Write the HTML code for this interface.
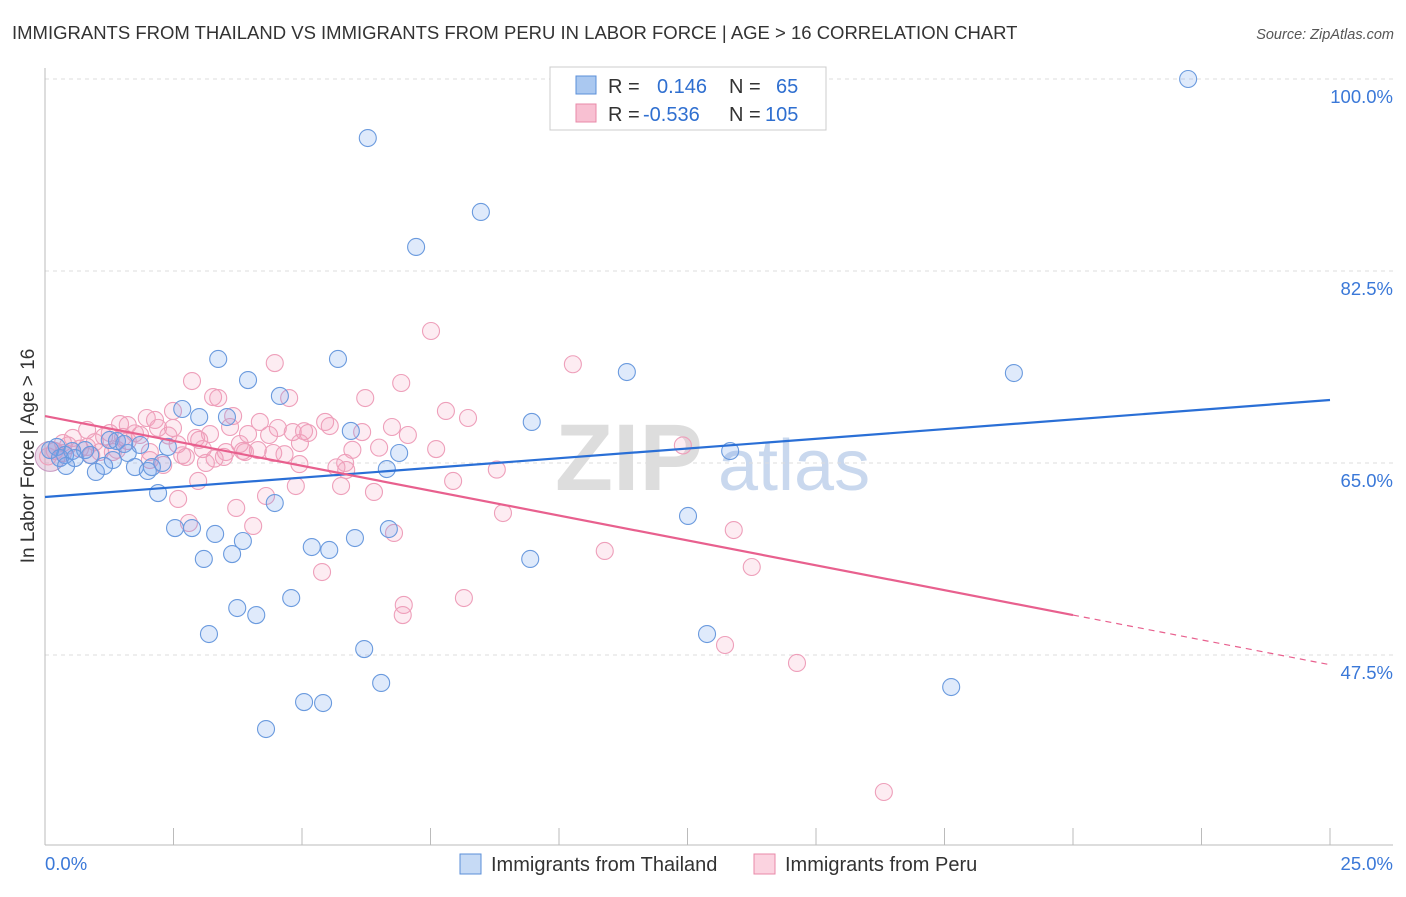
<!DOCTYPE html>
<html><head><meta charset="utf-8"><style>
body{margin:0;background:#fff;font-family:"Liberation Sans",sans-serif}
svg text{font-family:"Liberation Sans",sans-serif}
</style></head><body>
<svg id="chart" width="1406" height="892" xmlns="http://www.w3.org/2000/svg">
<text x="12" y="39" font-size="18.5" fill="#333">IMMIGRANTS FROM THAILAND VS IMMIGRANTS FROM PERU IN LABOR FORCE | AGE &gt; 16 CORRELATION CHART</text>
<text x="1394" y="39" font-size="14.5" fill="#555" text-anchor="end" font-style="italic">Source: ZipAtlas.com</text>
<g>
<text x="555" y="490" font-size="95" fill="#ddd" font-family="Liberation Serif" font-weight="bold">ZIP</text>
<text x="718" y="490" font-size="72" fill="#c9d8ee">atlas</text>
</g>
<g id="grid"></g>
<g id="axes"></g>
<g id="marks"></g>
<text transform="translate(34,456) rotate(-90)" font-size="19" fill="#333" text-anchor="middle">In Labor Force | Age &gt; 16</text>
<g>
<rect x="550" y="67" width="276" height="63" fill="#fff" stroke="#ccc"/>
<rect x="576" y="76" width="20" height="18" fill="#aac8f0" stroke="#5b8fd8"/>
<rect x="576" y="104" width="20" height="18" fill="#f8c0d2" stroke="#e88aa8"/>
<text x="608" y="93" font-size="20" fill="#333">R = </text><text x="657" y="93" font-size="20" fill="#2f6fd0">0.146</text>
<text x="729" y="93" font-size="20" fill="#333">N = </text><text x="776" y="93" font-size="20" fill="#2f6fd0">65</text>
<text x="608" y="121" font-size="20" fill="#333">R = </text><text x="643" y="121" font-size="20" fill="#2f6fd0">-0.536</text>
<text x="729" y="121" font-size="20" fill="#333">N = </text><text x="765" y="121" font-size="20" fill="#2f6fd0">105</text>
</g>
<g>
<rect x="460" y="854" width="21" height="20" fill="#c6daf5" stroke="#5b8fd8"/>
<text x="491" y="871" font-size="20" fill="#333">Immigrants from Thailand</text>
<rect x="754" y="854" width="21" height="20" fill="#fbd3e0" stroke="#e88aa8"/>
<text x="785" y="871" font-size="20" fill="#333">Immigrants from Peru</text>
</g>
</svg>
<script>
const blueX=[22.24,6.28,8.48,7.22,3.37,5.70,3.95,4.57,11.32,18.85,2.67,3.00,3.54,9.47,5.95,13.33,6.89,0.23,0.39,0.53,0.78,1.26,1.40,1.61,1.85,0.99,1.15,1.75,2.00,2.08,2.28,2.39,2.20,6.65,4.47,12.51,2.53,2.86,3.31,6.69,3.85,5.19,6.03,5.53,3.09,3.64,9.44,3.74,4.11,4.79,3.19,12.88,6.21,6.54,17.63,5.04,5.41,4.30,0.10,0.29,0.58,0.88,1.32,1.54,0.41];
const blueY=[100,94.62,87.88,84.69,74.48,74.48,72.56,71.11,73.29,73.20,69.92,69.19,69.19,68.74,67.92,66.09,65.91,66.46,65.73,66.09,66.18,67.10,67.00,65.91,66.64,64.18,64.73,64.63,64.27,64.63,65.00,66.46,62.26,64.45,61.35,60.17,59.07,59.07,58.53,58.98,57.89,57.34,58.16,57.07,56.25,56.70,56.25,51.78,51.14,52.69,49.41,49.41,48.04,44.95,44.58,43.21,43.12,40.75,66.18,65.45,65.45,65.73,65.27,66.73,64.73];
const pinkX=[7.51,4.47,2.86,3.27,3.37,4.75,6.93,6.23,7.80,8.23,2.49,1.98,2.14,1.46,1.61,3.66,4.18,4.53,4.82,5.12,5.45,5.54,6.75,7.06,6.17,3.95,4.36,3.60,3.21,2.94,2.49,1.85,1.26,0.82,0.54,0.35,4.96,4.44,4.14,3.89,3.79,3.48,3.52,3.07,2.74,3.13,2.30,2.04,5.84,5.86,7.61,7.94,5.76,6.40,4.88,2.98,2.59,4.30,3.72,2.80,4.05,6.79,5.39,6.98,6.96,8.15,1.07,1.52,0.82,2.04,10.27,12.41,8.79,8.91,10.89,13.40,13.75,13.23,14.63,16.32,0.06,0.19,0.68,0.97,0.35,1.15,1.61,2.20,2.67,3.00,3.85,4.66,5.04,5.67,6.50,1.32,1.75,2.40,0.45,0.90,1.40,2.58,3.30,4.95,5.98];
const pinkY=[77.03,74.11,72.47,71.01,70.92,70.92,72.29,70.92,69.74,69.10,69.74,69.10,68.92,68.55,68.46,69.28,68.74,68.19,67.82,67.73,68.74,68.37,68.28,67.55,67.82,67.64,67.55,68.28,67.64,67.28,68.19,67.55,67.73,68.01,67.28,66.82,66.82,65.91,66.18,66.00,66.73,65.55,66.00,66.27,65.55,65.00,64.82,66.00,65.00,64.36,66.27,63.36,62.90,62.36,62.90,63.36,61.72,61.99,60.90,59.53,59.26,58.62,55.06,52.06,51.14,52.69,66.00,67.37,66.46,65.27,74.00,66.60,64.40,60.44,56.98,58.89,55.52,48.41,46.77,35.01,65.60,66.10,66.30,66.90,65.90,67.40,67.00,68.20,65.70,67.10,66.10,65.80,67.90,64.60,66.40,66.00,67.70,67.50,66.60,65.70,66.20,66.70,65.40,64.90,66.20];
const blueLineX=[0,25], blueLineY=[61.90,70.74];
const pinkLineX=[0,20,25], pinkLineY=[69.28,51.14,46.61];
const yTicks=[100,82.5,65,47.5];
const yTickLabels=["100.0%","82.5%","65.0%","47.5%"];
const xTickVals=[0,2.5,5,7.5,10,12.5,15,17.5,20,22.5,25];
const NS="http://www.w3.org/2000/svg";
const sx=v=>45+v*51.4;
const sy=v=>79+(100-v)*10.971;
function mk(tag,attrs,parent){const e=document.createElementNS(NS,tag);for(const k in attrs)e.setAttribute(k,attrs[k]);parent.appendChild(e);return e;}
const grid=document.getElementById('grid'),axes=document.getElementById('axes'),marks=document.getElementById('marks');
yTicks.forEach((t,i)=>{
 const l=mk('line',{x1:45,x2:1393,y1:sy(t),y2:sy(t),stroke:'#ddd','stroke-dasharray':'4,4'},grid);
 
 
 const tx=mk('text',{x:1393,y:sy(t)+24,'font-size':18.5,fill:'#3a78d8','text-anchor':'end'},axes);
 tx.textContent=yTickLabels[i];
 
 
});
const ax=mk('line',{x1:45,x2:1393,y1:845,y2:845,stroke:'#bbb'},axes);


const ay=mk('line',{x1:45,x2:45,y1:68,y2:845,stroke:'#bbb'},axes);


xTickVals.forEach(v=>{
 const t=mk('line',{x1:sx(v),x2:sx(v),y1:828,y2:845,stroke:'#bbb'},axes);
 
 
});
const xl0=mk('text',{x:45,y:870,'font-size':18.5,fill:'#3a78d8'},axes);xl0.textContent='0.0%';


const xl1=mk('text',{x:1393,y:870,'font-size':18.5,fill:'#3a78d8','text-anchor':'end'},axes);xl1.textContent='25.0%';


function dots(X,Y,fill,stroke,name){
 X.forEach((x,i)=>{
  const c=mk('circle',{cx:sx(x),cy:sy(Y[i]),r:8.5,fill:fill,stroke:stroke,'stroke-width':1.1},marks);
  
  
 });
}
const bigP=mk('circle',{cx:sx(0.1),cy:sy(65.6),r:15,fill:'rgba(200,150,190,0.35)',stroke:'#c898c0'},marks);


dots(pinkX,pinkY,'rgba(244,160,188,0.2)','#ee9fba','peru-point');
dots(blueX,blueY,'rgba(110,160,235,0.22)','#6a9ade','thailand-point');
const bl=mk('line',{x1:sx(blueLineX[0]),y1:sy(blueLineY[0]),x2:sx(blueLineX[1]),y2:sy(blueLineY[1]),stroke:'#2a6fd6','stroke-width':2.2},marks);


const pl=mk('line',{x1:sx(pinkLineX[0]),y1:sy(pinkLineY[0]),x2:sx(pinkLineX[1]),y2:sy(pinkLineY[1]),stroke:'#e8608e','stroke-width':2.2},marks);


const pd=mk('line',{x1:sx(pinkLineX[1]),y1:sy(pinkLineY[1]),x2:sx(pinkLineX[2]),y2:sy(pinkLineY[2]),stroke:'#e8608e','stroke-width':1.2,'stroke-dasharray':'6,5'},marks);


</script>
</body></html>
